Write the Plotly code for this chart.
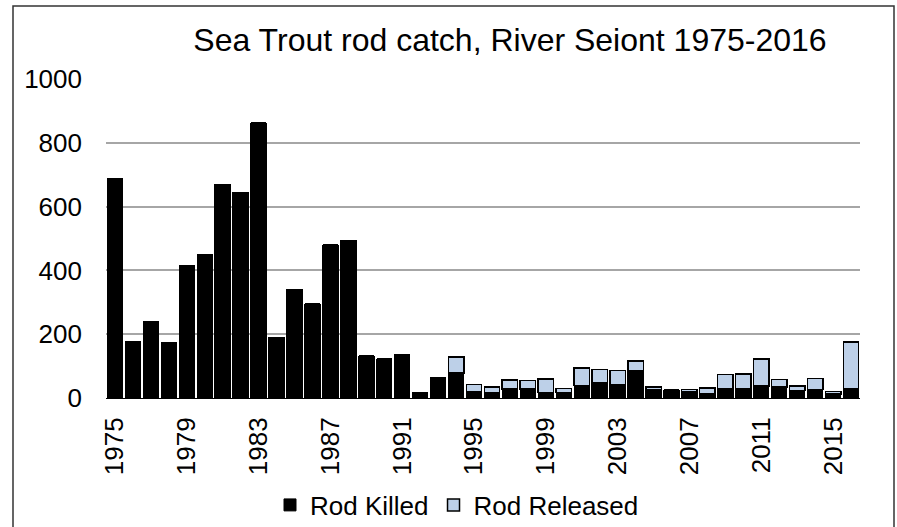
import plotly.graph_objects as go

years = list(range(1975, 2017))
rod_killed = [688, 175, 238, 174, 415, 449, 669, 645, 862, 190,
              340, 294, 479, 493, 131, 122, 136, 15, 62, 78,
              20, 17, 29, 28, 18, 17, 39, 48, 40, 86,
              26, 25, 20, 12, 30, 30, 37, 35, 23, 27,
              12, 28]
rod_released = [0, 0, 0, 0, 0, 0, 0, 0, 0, 0,
                 0, 0, 0, 0, 0, 0, 0, 0, 0, 50,
                 22, 17, 28, 27, 41, 13, 55, 41, 46, 30,
                 8, 0, 6, 20, 43, 45, 85, 23, 14, 34,
                 8, 148]
x_tick_years = list(range(1975, 2017, 4))
y_ticks = [0, 200, 400, 600, 800, 1000]

FONT = "Liberation Sans, Arial, sans-serif"

W, H = 897, 527
L, R, T, B = 106, 37, 79, 129
pw = W - L - R
ph = H - T - B

def px_x(px):
    return (px - L) / pw

def px_y(py):
    return (H - B - py) / ph

fig = go.Figure()
fig.add_trace(go.Bar(
    x=years, y=rod_killed, name="Rod Killed",
    marker=dict(color="#000000", line=dict(color="#000000", width=1)),
))
fig.add_trace(go.Bar(
    x=years, y=rod_released, name="Rod Released",
    marker=dict(color="#bdd0e8", line=dict(color="#000000", width=1.5)),
))

fig.update_layout(
    width=W, height=H,
    margin=dict(l=L, r=R, t=T, b=B, autoexpand=False),
    barmode="stack", bargap=0.14,
    paper_bgcolor="white", plot_bgcolor="white",
    font=dict(family=FONT, size=26, color="#000000"),
    title=dict(text="Sea Trout rod catch, River Seiont 1975-2016",
               x=510 / W, xanchor="center", xref="container",
               y=1 - 40 / H, yanchor="middle", yref="container",
               font=dict(family=FONT, size=32, color="#000000")),
    showlegend=True,
    legend=dict(orientation="h", x=px_x(457), xanchor="center",
                y=px_y(505), yanchor="middle",
                font=dict(family=FONT, size=26, color="#000000"),
                traceorder="normal", itemwidth=30),
    xaxis=dict(range=[1974.5, 2016.5], tickmode="array",
               tickvals=x_tick_years, ticktext=[str(v) for v in x_tick_years],
               tickangle=-90, showgrid=False, zeroline=False,
               showline=True, linecolor="#000000", linewidth=1,
               ticks="", ticklabelstandoff=8, automargin=False),
    yaxis=dict(range=[0, 1000], tickmode="array", tickvals=y_ticks,
               showgrid=True, gridcolor="#a6a6a6", gridwidth=1.5,
               zeroline=False, showline=False, ticks="",
               ticklabelstandoff=23, automargin=False),
    shapes=[dict(type="rect", xref="paper", yref="paper",
                 x0=px_x(13), x1=px_x(894), y0=px_y(545), y1=px_y(6),
                 line=dict(color="#333333", width=1.5),
                 fillcolor="rgba(0,0,0,0)", layer="below")],
)

fig.write_html("out.html", config={"displayModeBar": False},
               post_script="document.body.style.margin='0px';")
